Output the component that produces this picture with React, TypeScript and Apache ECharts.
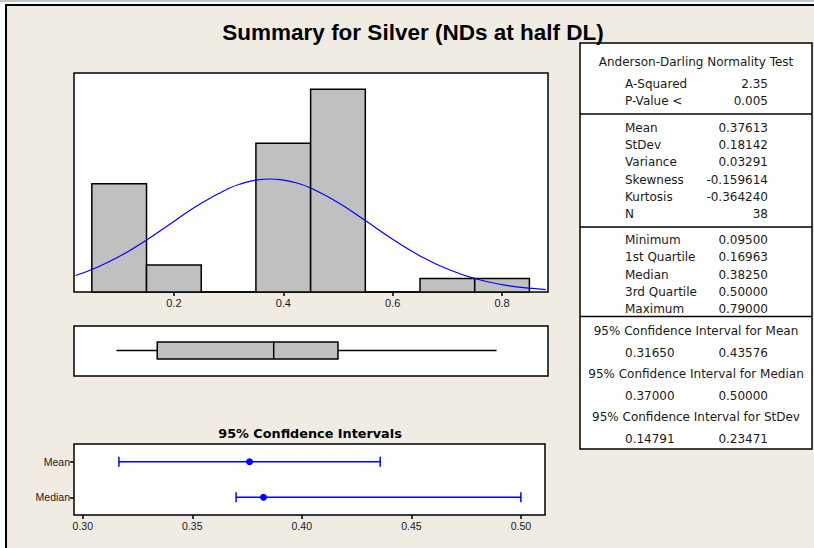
import React, { useEffect, useRef } from "react";
import * as echarts from "echarts";

// ---------- data ----------
const chartTitle = "Summary for Silver (NDs at half DL)";
const binCenters = [0.1, 0.2, 0.3, 0.4, 0.5, 0.6, 0.7, 0.8];
const binCounts = [8, 2, 0, 11, 15, 0, 1, 1];
const binWidth = 0.1;
const curveX = [0.02, 0.05, 0.1, 0.15, 0.2, 0.25, 0.3, 0.325, 0.35, 0.375, 0.4, 0.425, 0.45, 0.5, 0.55, 0.6, 0.65, 0.7, 0.75, 0.8, 0.85, 0.88];
const curveY = [1.22, 1.66, 2.62, 3.84, 5.22, 6.56, 7.65, 8.03, 8.27, 8.36, 8.28, 8.06, 7.69, 6.62, 5.28, 3.9, 2.67, 1.7, 1.0, 0.55, 0.28, 0.18];
const histTicks = [0.2, 0.4, 0.6, 0.8];
const boxStats = [0.095, 0.16963, 0.3825, 0.5, 0.79];
const ciCategories = ["Mean", "Median"];
const ciLow = [0.3165, 0.37];
const ciEst = [0.37613, 0.3825];
const ciHigh = [0.43576, 0.5];
const ciTicks = [0.3, 0.35, 0.4, 0.45, 0.5];
const ciTitle = "95% Confidence Intervals";

const adHeading = "Anderson-Darling Normality Test";
const adLabels = ["A-Squared", "P-Value <"];
const adValues = ["2.35", "0.005"];
const descLabels = ["Mean", "StDev", "Variance", "Skewness", "Kurtosis", "N"];
const descValues = ["0.37613", "0.18142", "0.03291", "-0.159614", "-0.364240", "38"];
const quartLabels = ["Minimum", "1st Quartile", "Median", "3rd Quartile", "Maximum"];
const quartValues = ["0.09500", "0.16963", "0.38250", "0.50000", "0.79000"];
const ciHeadings = [
  "95% Confidence Interval for Mean",
  "95% Confidence Interval for Median",
  "95% Confidence Interval for StDev",
];
const ciTableLow = ["0.31650", "0.37000", "0.14791"];
const ciTableHigh = ["0.43576", "0.50000", "0.23471"];

// ---------- layout ----------
const BG = "#F0ECE3";
const GRAY = "#C0C0C0";
const BLUE = "#0000FF";
const TXT = "#1a1a1a";
const TABLE_FONT = '"DejaVu Sans", sans-serif';
const AXIS_FONT = '"Liberation Sans", Arial, sans-serif';

function txt(text: string, x: number, y: number, align: string, extra: any = {}) {
  return {
    type: "text",
    x,
    y,
    z: 10,
    style: {
      text,
      fill: TXT,
      fontSize: 12,
      fontFamily: TABLE_FONT,
      align,
      verticalAlign: "middle",
      ...extra,
    },
  };
}

export default function App() {
  const ref = useRef<HTMLDivElement>(null);
  useEffect(() => {
    if (!ref.current) return;
    const chart = echarts.init(ref.current, undefined, { renderer: "svg" });

    const tX = 580, tY = 43, tW = 232, tH = 406;
    const labX = 625, valR = 768;
    const graphics: any[] = [
      { type: "rect", z: -100, shape: { x: 0, y: 0, width: 814, height: 2 }, style: { fill: "#C4C4C4" } },
      { type: "rect", z: -99, shape: { x: 6, y: 5, width: 830, height: 570 }, style: { fill: BG, stroke: "#000", lineWidth: 2 } },
      {
        type: "text", x: 413, y: 32, z: 10,
        style: { text: chartTitle, fill: "#000", fontSize: 22.5, fontWeight: "bold", fontFamily: AXIS_FONT, align: "center", verticalAlign: "middle" },
      },
      {
        type: "text", x: 310, y: 433, z: 10,
        style: { text: ciTitle, fill: "#000", fontSize: 12.8, fontWeight: "bold", fontFamily: TABLE_FONT, align: "center", verticalAlign: "middle" },
      },
      { type: "rect", z: 5, shape: { x: tX, y: tY, width: tW, height: tH }, style: { fill: "#fff", stroke: "#000", lineWidth: 1.5 } },
      { type: "line", z: 6, shape: { x1: tX, y1: 114, x2: tX + tW, y2: 114 }, style: { stroke: "#000", lineWidth: 1.5 } },
      { type: "line", z: 6, shape: { x1: tX, y1: 227, x2: tX + tW, y2: 227 }, style: { stroke: "#000", lineWidth: 1.5 } },
      { type: "line", z: 6, shape: { x1: tX, y1: 316.5, x2: tX + tW, y2: 316.5 }, style: { stroke: "#000", lineWidth: 1.5 } },
      txt(adHeading, tX + tW / 2, 62, "center"),
    ];
    adLabels.forEach((l, i) => {
      graphics.push(txt(l, labX, 84 + i * 17, "left"));
      graphics.push(txt(adValues[i], valR, 84 + i * 17, "right"));
    });
    descLabels.forEach((l, i) => {
      graphics.push(txt(l, labX, 128 + i * 17.2, "left"));
      graphics.push(txt(descValues[i], valR, 128 + i * 17.2, "right"));
    });
    quartLabels.forEach((l, i) => {
      graphics.push(txt(l, labX, 240 + i * 17.3, "left"));
      graphics.push(txt(quartValues[i], valR, 240 + i * 17.3, "right"));
    });
    ciHeadings.forEach((h, i) => {
      const y0 = 331 + i * 43;
      graphics.push(txt(h, tX + tW / 2, y0, "center"));
      graphics.push(txt(ciTableLow[i], labX, y0 + 22, "left"));
      graphics.push(txt(ciTableHigh[i], valR, y0 + 22, "right"));
    });

    const gridBase = { show: true, backgroundColor: "#fff", borderColor: "#000", borderWidth: 1.5, containLabel: false };
    const histMin = 0.0174, histMax = 0.884;

    const option: any = {
      animation: false,
      backgroundColor: "#fff",
      textStyle: { fontFamily: AXIS_FONT },
      graphic: { elements: graphics },
      grid: [
        { ...gridBase, left: 74, top: 73, width: 474, height: 219 },
        { ...gridBase, left: 74, top: 326, width: 474, height: 50 },
        { ...gridBase, left: 74, top: 444, width: 471, height: 71 },
      ],
      xAxis: [
        {
          type: "value", gridIndex: 0, min: histMin, max: histMax,
          splitLine: { show: false }, axisLine: { show: false },
          axisTick: { show: true, length: 4, customValues: histTicks, lineStyle: { color: "#000", width: 1.5 } },
          axisLabel: { customValues: histTicks, margin: 5, fontSize: 11, color: TXT, formatter: (v: number) => v.toFixed(1) },
        },
        { type: "value", gridIndex: 1, min: histMin, max: histMax, show: false, splitLine: { show: false } },
        {
          type: "value", gridIndex: 2, min: 0.296, max: 0.511,
          splitLine: { show: false }, axisLine: { show: false },
          axisTick: { show: true, length: 4, customValues: ciTicks, lineStyle: { color: "#000", width: 1.5 } },
          axisLabel: { customValues: ciTicks, margin: 5, fontSize: 10.5, color: TXT, formatter: (v: number) => v.toFixed(2) },
        },
      ],
      yAxis: [
        { type: "value", gridIndex: 0, min: 0, max: 16.2, show: false, splitLine: { show: false } },
        { type: "value", gridIndex: 1, min: -1, max: 1, show: false, splitLine: { show: false } },
        {
          type: "category", gridIndex: 2, data: ciCategories, inverse: true,
          axisLine: { show: false }, splitLine: { show: false },
          axisTick: { show: true, length: 4, alignWithLabel: true, lineStyle: { color: "#000", width: 1.5 } },
          axisLabel: { margin: 4, fontSize: 10.5, color: TXT },
        },
      ],
      series: [
        {
          type: "custom", xAxisIndex: 0, yAxisIndex: 0, z: 2,
          data: binCenters.map((c, i) => [c, binCounts[i]]),
          encode: { x: 0, y: 1 },
          renderItem: (params: any, api: any) => {
            const c = api.value(0), n = api.value(1);
            const p0 = api.coord([c - binWidth / 2, n]);
            const p1 = api.coord([c + binWidth / 2, 0]);
            return {
              type: "rect",
              shape: { x: p0[0], y: p0[1], width: p1[0] - p0[0], height: p1[1] - p0[1] },
              style: { fill: GRAY, stroke: "#000", lineWidth: 1.5 },
            };
          },
        },
        {
          type: "line", xAxisIndex: 0, yAxisIndex: 0, z: 4,
          data: curveX.map((x, i) => [x, curveY[i]]),
          smooth: 0.5, showSymbol: false, symbol: "none",
          lineStyle: { color: BLUE, width: 1.2 },
        },
        {
          type: "custom", xAxisIndex: 1, yAxisIndex: 1, z: 2,
          data: [boxStats],
          encode: { x: [0, 1, 2, 3, 4] },
          renderItem: (params: any, api: any) => {
            const mn = api.coord([api.value(0), 0]);
            const q1 = api.coord([api.value(1), 0]);
            const md = api.coord([api.value(2), 0]);
            const q3 = api.coord([api.value(3), 0]);
            const mx = api.coord([api.value(4), 0]);
            const cy = mn[1] - 0.5;
            const h = 8.6;
            const ls = { stroke: "#000", lineWidth: 1.5 };
            return {
              type: "group",
              children: [
                { type: "line", shape: { x1: mn[0], y1: cy, x2: q1[0], y2: cy }, style: ls },
                { type: "line", shape: { x1: q3[0], y1: cy, x2: mx[0], y2: cy }, style: ls },
                { type: "rect", shape: { x: q1[0], y: cy - h, width: q3[0] - q1[0], height: 2 * h }, style: { fill: GRAY, stroke: "#000", lineWidth: 1.5 } },
                { type: "line", shape: { x1: md[0], y1: cy - h, x2: md[0], y2: cy + h }, style: ls },
              ],
            };
          },
        },
        {
          type: "custom", xAxisIndex: 2, yAxisIndex: 2, z: 3,
          data: ciCategories.map((c, i) => [ciLow[i], ciEst[i], ciHigh[i], i]),
          encode: { x: [0, 1, 2], y: 3 },
          renderItem: (params: any, api: any) => {
            const idx = api.value(3);
            const lo = api.coord([api.value(0), idx]);
            const est = api.coord([api.value(1), idx]);
            const hi = api.coord([api.value(2), idx]);
            const ls = { stroke: BLUE, lineWidth: 1.5 };
            const cap = 5;
            return {
              type: "group",
              children: [
                { type: "line", shape: { x1: lo[0], y1: lo[1], x2: hi[0], y2: hi[1] }, style: ls },
                { type: "line", shape: { x1: lo[0], y1: lo[1] - cap, x2: lo[0], y2: lo[1] + cap }, style: ls },
                { type: "line", shape: { x1: hi[0], y1: hi[1] - cap, x2: hi[0], y2: hi[1] + cap }, style: ls },
                { type: "circle", shape: { cx: est[0], cy: est[1], r: 3.5 }, style: { fill: BLUE } },
              ],
            };
          },
        },
      ],
    };
    chart.setOption(option);
    return () => chart.dispose();
  }, []);

  return (
    <div
      ref={ref}
      style={{ position: "fixed", left: 0, top: 0, width: 814, height: 548, background: "#fff" }}
    />
  );
}
